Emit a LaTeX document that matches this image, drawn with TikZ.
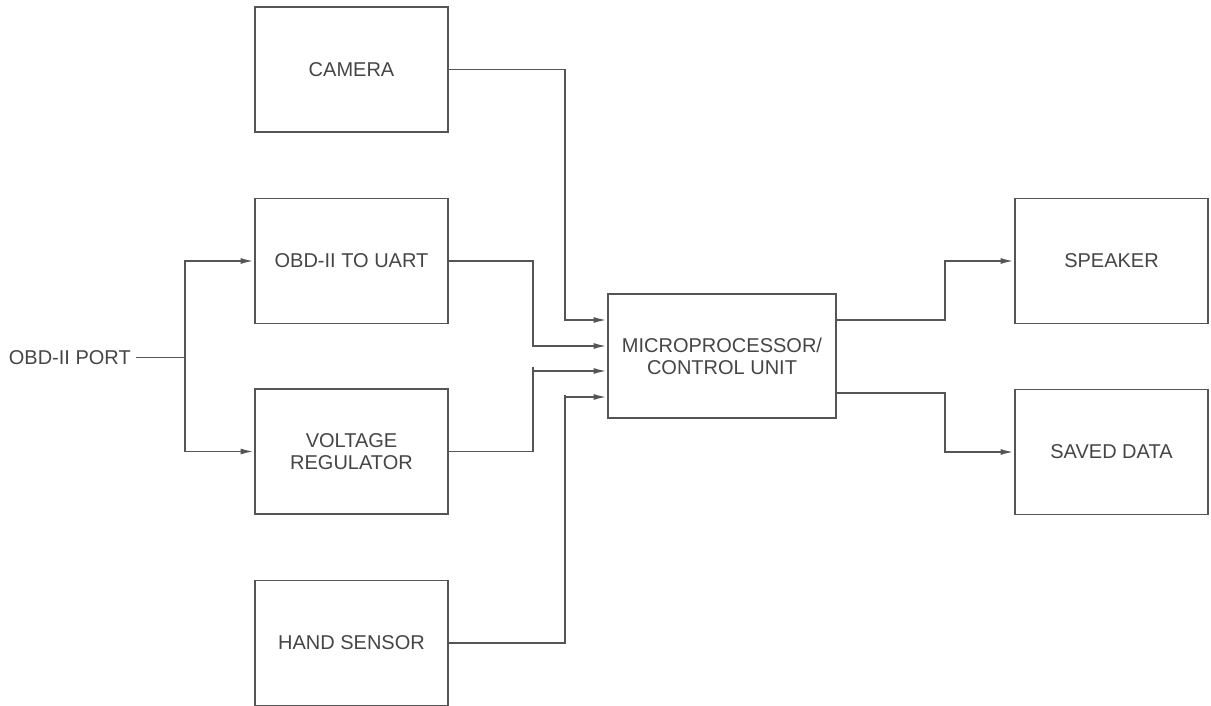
\documentclass[tikz,border=0pt]{standalone}
\usepackage{fontspec}
\setmainfont{Liberation Sans}
\usepackage{xcolor}
\usepackage{tikz}
\usetikzlibrary{calc,arrows.meta,positioning}
\definecolor{linex}{HTML}{555555}
\definecolor{textx}{HTML}{454545}
\tikzset{
  ln/.style={draw=linex,line width=1.4pt},
  ar/.style={ln,-{Latex[length=10pt,width=4.4pt]}},
  box/.style={draw=linex,line width=1.4pt,align=center,text=textx,
    minimum width=144.75pt,minimum height=93.75pt,inner sep=0pt,
    font=\fontsize{15}{16.5}\selectfont}
}

\begin{document}
\begin{tikzpicture}[x=0.75pt,y=-0.75pt]
\useasboundingbox (0,0) rectangle (1211,706);
\node[box] (cam) at (351.5,69.5) {CAMERA};
\node[box] (uart) at (351.5,261) {OBD-II TO UART};
\node[box] (vr) at (351.5,451.5) {VOLTAGE\\REGULATOR};
\node[box] (hand) at (351.5,643) {HAND SENSOR};
\node[box,minimum width=171pt,minimum height=93pt] (mcu) at (722,356) {MICROPROCESSOR/\\CONTROL UNIT};
\node[box] (spk) at (1111.5,261) {SPEAKER};
\node[box] (saved) at (1111.5,452) {SAVED DATA};
\node[anchor=east,text=textx,inner sep=0pt,font=\fontsize{15}{16.5}\selectfont] (port) at (131,357.5) {OBD-II PORT};
\coordinate (split) at (185,357.5);
% inputs of the control unit
\coordinate (in1) at ($(mcu.west)+(0,-36)$);
\coordinate (in2) at ($(mcu.west)+(0,-10)$);
\coordinate (in3) at ($(mcu.west)+(0,15)$);
\coordinate (in4) at ($(mcu.west)+(0,41)$);
\coordinate (out1) at ($(mcu.east)+(0,-36)$);
\coordinate (out2) at ($(mcu.east)+(0,37)$);
% port to the two front boxes
\draw[ln] ([xshift=4]port.east) -- (split);
\draw[ar] (split) |- (uart.west);
\draw[ar] (split) |- (vr.west);
% into the control unit
\draw[ar] (cam.east) -| ($(in1)+(-42,0)$) -- (in1);
\draw[ar] (uart.east) -| ($(in2)+(-74,0)$) -- (in2);
\draw[ar] (vr.east) -| ($(in3)+(-74,0)$) -- (in3);
\draw[ln] ($(in3)+(-74,0)$) -- ++(0,-4);
\draw[ar] (hand.east) -| ($(in4)+(-42,0)$) -- (in4);
\draw[ln] ($(in4)+(-42,0)$) -- ++(0,-2);
% outputs
\draw[ar] (out1) -| ($(spk.west)+(-69,0)$) -- (spk.west);
\draw[ar] (out2) -| ($(saved.west)+(-69,0)$) -- (saved.west);
\end{tikzpicture}
\end{document}
